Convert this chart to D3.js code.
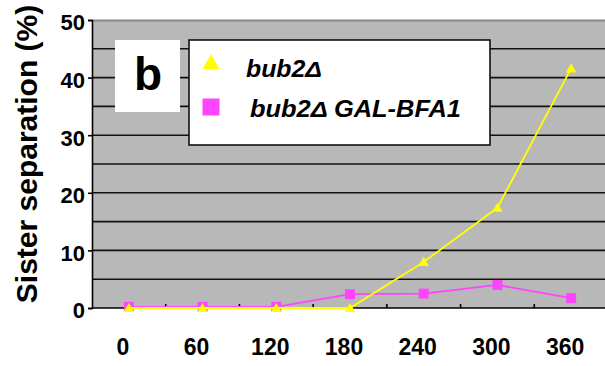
<!DOCTYPE html>
<html>
<head>
<meta charset="utf-8">
<script src="https://cdn.jsdelivr.net/npm/d3@7"></script>
<style>
  body { margin: 0; background: #fff; }
  svg { display: block; font-family: "Liberation Sans", Arial, sans-serif; }
</style>
</head>
<body>
<svg id="chart" width="605" height="366"></svg>
<script>
// time points (min) and % sister separation
const times = ["0", "60", "120", "180", "240", "300", "360"];
const bub2 = [0, 0, 0, 0, 8.0, 17.4, 41.6];
const bub2Gal = [0.2, 0.2, 0.2, 2.4, 2.5, 4.0, 1.7];
const yTicks = [0, 10, 20, 30, 40, 50];
const yGrid = [5, 10, 15, 20, 25, 30, 35, 40, 45];

const seriesNames = ["bub2\u0394", "bub2\u0394 GAL-BFA1"];
const yellow = "#ffff00";
const pink = "#ff44ff";

const plotL = 92, plotT = 20, plotB = 308, plotR = 608;

const svg = d3.select("#chart");

const x = d3.scaleBand().domain(times).range([plotL, plotR]).padding(0);
const y = d3.scaleLinear().domain([0, 50]).range([plotB, plotT]);

// plot background
svg.append("rect")
  .attr("x", plotL).attr("y", plotT)
  .attr("width", 605 - plotL).attr("height", plotB - plotT)
  .attr("fill", "#b8b8b8");
svg.append("line")
  .attr("x1", plotL).attr("x2", 605).attr("y1", plotT + 0.5).attr("y2", plotT + 0.5)
  .attr("stroke", "#8a8a8a").attr("stroke-width", 2);

// gridlines every 5
svg.append("g").selectAll("line")
  .data(yGrid)
  .join("line")
  .attr("x1", plotL).attr("x2", 605)
  .attr("y1", d => y(d)).attr("y2", d => y(d))
  .attr("stroke", "#111").attr("stroke-width", 1.6);

// "b" panel label
svg.append("rect")
  .attr("x", 115).attr("y", 40).attr("width", 65).attr("height", 72)
  .attr("fill", "#fff");
svg.append("text")
  .attr("x", 148).attr("y", 90)
  .attr("text-anchor", "middle")
  .attr("font-size", 46).attr("font-weight", "bold")
  .text("b");

// legend
svg.append("rect")
  .attr("x", 189).attr("y", 40).attr("width", 301).attr("height", 105)
  .attr("fill", "#fff").attr("stroke", "#111").attr("stroke-width", 1.6);
svg.append("path")
  .attr("d", d3.symbol(d3.symbolTriangle, 125)())
  .attr("transform", "translate(211,64)")
  .attr("fill", yellow);
svg.append("path")
  .attr("d", d3.symbol(d3.symbolSquare, 289)())
  .attr("transform", "translate(211,107)")
  .attr("fill", pink);
svg.append("text")
  .attr("x", 246).attr("y", 77)
  .attr("font-size", 23).attr("font-weight", "bold").attr("font-style", "italic")
  .attr("textLength", 76).attr("lengthAdjust", "spacingAndGlyphs")
  .text(seriesNames[0]);
svg.append("text")
  .attr("x", 250).attr("y", 117)
  .attr("font-size", 23).attr("font-weight", "bold").attr("font-style", "italic")
  .attr("textLength", 211).attr("lengthAdjust", "spacingAndGlyphs")
  .text(seriesNames[1]);

// y axis
const yAxis = svg.append("g")
  .attr("transform", `translate(${plotL},0)`)
  .call(d3.axisLeft(y).tickValues(yTicks).tickSize(4).tickPadding(3));
yAxis.select(".domain").attr("stroke", "#000").attr("stroke-width", 1.6);
yAxis.selectAll(".tick line").attr("stroke", "#000").attr("stroke-width", 1.6);
yAxis.selectAll(".tick text")
  .attr("font-size", 22).attr("font-weight", "bold")
  .attr("font-family", "Liberation Sans, Arial, sans-serif")
  .attr("fill", "#000").attr("dy", "0.45em");

// x axis
svg.append("line")
  .attr("x1", plotL).attr("x2", 605).attr("y1", plotB).attr("y2", plotB)
  .attr("stroke", "#000").attr("stroke-width", 1.6);
svg.append("g").selectAll("line")
  .data(times.slice(1))
  .join("line")
  .attr("x1", d => x(d)).attr("x2", d => x(d))
  .attr("y1", plotB).attr("y2", plotB - 4)
  .attr("stroke", "#000").attr("stroke-width", 1.6);
svg.append("g").selectAll("text")
  .data(times)
  .join("text")
  .attr("x", d => x(d) + x.bandwidth() / 2 - 6)
  .attr("y", 355)
  .attr("text-anchor", "middle")
  .attr("font-size", 23).attr("font-weight", "bold")
  .text(d => d);

// y title
svg.append("text")
  .attr("transform", "translate(37,154) rotate(-90)")
  .attr("text-anchor", "middle")
  .attr("font-size", 30).attr("font-weight", "bold")
  .text("Sister separation (%)");

// series
const cx = d => x(d) + x.bandwidth() / 2;
const line = d3.line().x((d, i) => cx(times[i])).y(d => y(d));

svg.append("path")
  .datum(bub2Gal)
  .attr("d", line)
  .attr("fill", "none").attr("stroke", pink).attr("stroke-width", 1.8);
svg.append("g").selectAll("path")
  .data(bub2Gal)
  .join("path")
  .attr("d", d3.symbol(d3.symbolSquare, 100)())
  .attr("transform", (d, i) => `translate(${cx(times[i])},${y(d)})`)
  .attr("fill", pink);

svg.append("path")
  .datum(bub2)
  .attr("d", line)
  .attr("fill", "none").attr("stroke", yellow).attr("stroke-width", 1.8);
svg.append("g").selectAll("path")
  .data(bub2)
  .join("path")
  .attr("d", d3.symbol(d3.symbolTriangle, 48)())
  .attr("transform", (d, i) => `translate(${cx(times[i])},${y(d) + 1})`)
  .attr("fill", yellow);
</script>
</body>
</html>
